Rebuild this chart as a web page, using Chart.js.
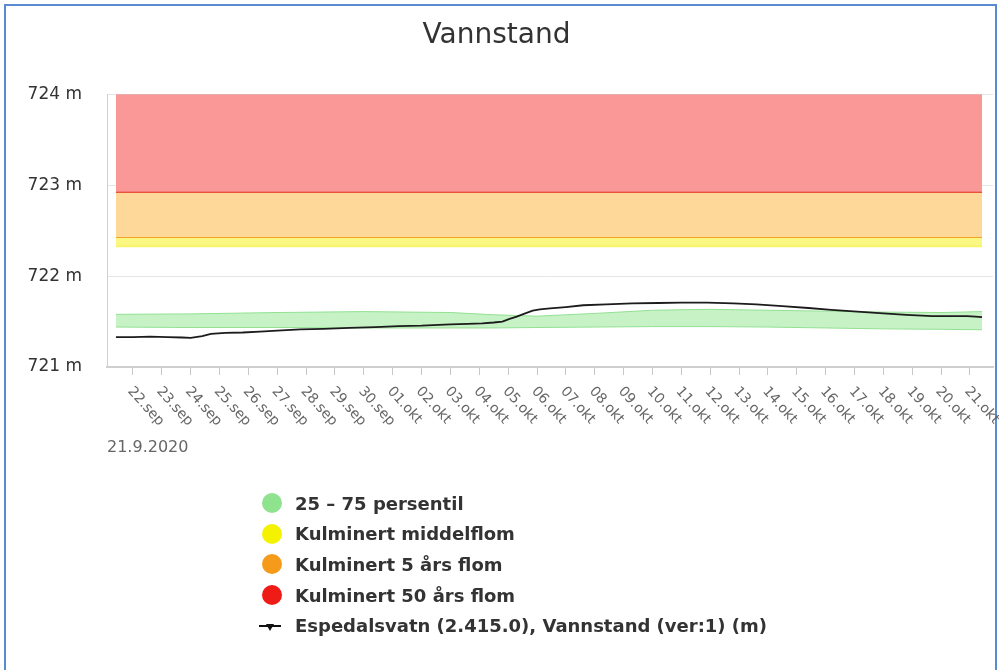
<!DOCTYPE html>
<html>
<head>
<meta charset="utf-8">
<script src="https://cdn.jsdelivr.net/npm/chart.js@4.4.1/dist/chart.umd.min.js"></script>
<style>
  html, body { margin: 0; padding: 0; background: #fff; }
  #wrap { position: relative; width: 999px; height: 670px; overflow: hidden; font-family: "DejaVu Sans", sans-serif; }
  #frame { position: absolute; left: 4px; top: 4px; width: 993px; height: 700px; border: 2px solid #5a8ad0; box-sizing: border-box; }
  canvas { position: absolute; left: 0; top: 0; }
  #legend { position: absolute; left: 262px; top: 488px; }
  .row { height: 30.6px; display: flex; align-items: center; font-weight: bold; font-size: 18px; color: #333; white-space: nowrap; }
  .dot { width: 20px; height: 20px; border-radius: 50%; margin-right: 13px; flex: none; }
  .mark { width: 22px; height: 18px; margin-left: -3px; margin-right: 14px; position: relative; flex: none; }
  .mark .ln { position: absolute; left: 0; right: 0; top: 8px; height: 2px; background: #111; }
  .mark .tri { position: absolute; left: 7px; top: 7px; width: 0; height: 0; border-left: 4px solid transparent; border-right: 4px solid transparent; border-top: 7px solid #111; }
</style>
</head>
<body>
<div id="wrap">
  <div id="frame"></div>
  <canvas id="chart" width="999" height="670"></canvas>
  <div id="legend"></div>
</div>
<script>
// x values are days after 21.9.2020 00:00
const tickDays = [1, 2, 3, 4, 5, 6, 7, 8, 9, 10, 11, 12, 13, 14, 15, 16, 17, 18, 19, 20, 21, 22, 23, 24, 25, 26, 27, 28, 29, 30];
const tickLabels = ['22.sep', '23.sep', '24.sep', '25.sep', '26.sep', '27.sep', '28.sep', '29.sep', '30.sep',
  '01.okt', '02.okt', '03.okt', '04.okt', '05.okt', '06.okt', '07.okt', '08.okt', '09.okt', '10.okt',
  '11.okt', '12.okt', '13.okt', '14.okt', '15.okt', '16.okt', '17.okt', '18.okt', '19.okt', '20.okt', '21.okt'];
const startLabel = '21.9.2020';

const levelDays = [0.41, 1.0, 1.6, 2.2, 2.7, 3.0, 3.4, 3.7, 4.2, 4.8, 5.4, 6.0, 6.8, 7.6, 8.5, 9.4, 10.2, 11.0, 12.0, 12.6,
  13.1, 13.5, 13.8, 14.05, 14.3, 14.5, 14.85, 15.1, 15.45, 16.0, 16.6, 17.4, 18.3, 19.2, 20.0, 20.9, 21.8, 22.6, 23.5,
  24.4, 25.2, 26.1, 27.0, 27.8, 28.7, 29.4, 29.9, 30.2, 30.42];
const levelValues = [721.33, 721.33, 721.335, 721.33, 721.325, 721.32, 721.34, 721.365, 721.375, 721.38, 721.39, 721.40,
  721.415, 721.42, 721.43, 721.44, 721.45, 721.455, 721.47, 721.475, 721.48, 721.49, 721.50, 721.53, 721.555, 721.58,
  721.62, 721.635, 721.645, 721.66, 721.68, 721.69, 721.70, 721.705, 721.71, 721.71, 721.70, 721.69, 721.67, 721.65,
  721.63, 721.61, 721.59, 721.575, 721.56, 721.56, 721.56, 721.555, 721.55];

const bandDays = [0.41, 3, 6, 9, 12, 13.5, 15, 17, 19, 21, 23, 25, 27, 29, 30.42];
const p25 = [721.44, 721.435, 721.435, 721.43, 721.43, 721.43, 721.435, 721.44, 721.445, 721.445, 721.44, 721.43, 721.42, 721.415, 721.41];
const p75 = [721.58, 721.585, 721.60, 721.61, 721.60, 721.575, 721.56, 721.59, 721.625, 721.635, 721.625, 721.615, 721.605, 721.60, 721.61];

const floodSpan = [0.41, 30.42];
const middelflom = 722.33;
const flom5 = 722.42;
const flom50 = 722.92;
const bandTop = 724;

const pts = (xs, ys) => xs.map((x, i) => ({ x, y: ys[i] }));
const flat = v => floodSpan.map(x => ({ x, y: v }));

const datasets = [
  { label: 'p25', data: pts(bandDays, p25), borderColor: '#92e092', borderWidth: 1, fill: false },
  { label: '25 – 75 persentil', legend: '#8fe38f', data: pts(bandDays, p75), borderColor: '#92e092', borderWidth: 1,
    fill: '-1', backgroundColor: 'rgba(120,224,120,0.42)' },
  { label: 'Kulminert middelflom', legend: '#f5f200', data: flat(middelflom), borderColor: '#f9f46a', borderWidth: 2,
    fill: '+1', backgroundColor: '#fbf783' },
  { label: 'Kulminert 5 års flom', legend: '#f59a1a', data: flat(flom5), borderColor: '#f0a22a', borderWidth: 2,
    fill: '+1', backgroundColor: '#fdd898' },
  { label: 'Kulminert 50 års flom', legend: '#ee1b16', data: flat(flom50), borderColor: '#e2271f', borderWidth: 2,
    fill: '+1', backgroundColor: '#fa9898' },
  { label: 'top', data: flat(bandTop), borderColor: '#e07070', borderWidth: 1, fill: false },
  { label: 'Espedalsvatn (2.415.0), Vannstand (ver:1) (m)', legend: 'line', data: pts(levelDays, levelValues),
    borderColor: '#1c1c1c', borderWidth: 1.8, fill: false, order: -1 }
];

const rotatedTicks = {
  id: 'rotatedTicks',
  afterDraw(chart) {
    const { ctx } = chart;
    const x = chart.scales.x;
    ctx.save();
    ctx.fillStyle = '#666';
    ctx.font = '14px "DejaVu Sans"';
    ctx.textAlign = 'left';
    ctx.textBaseline = 'middle';
    tickDays.forEach((d, i) => {
      ctx.save();
      ctx.translate(x.getPixelForValue(d) - 3, x.top + 22);
      ctx.rotate(48 * Math.PI / 180);
      ctx.fillText(tickLabels[i], 0, 0);
      ctx.restore();
    });
    ctx.font = '16px "DejaVu Sans"';
    ctx.textBaseline = 'top';
    ctx.fillText(startLabel, x.left, x.top + 73);
    ctx.restore();
  }
};

const chart = new Chart(document.getElementById('chart'), {
  type: 'line',
  data: { datasets },
  options: {
    responsive: false,
    animation: false,
    devicePixelRatio: 1,
    layout: { padding: { left: 0, right: 6, top: 0, bottom: 213 } },
    elements: { point: { radius: 0 }, line: { tension: 0 } },
    plugins: {
      legend: { display: false },
      tooltip: { enabled: false },
      title: {
        display: true,
        text: 'Vannstand',
        color: '#333',
        font: { family: 'DejaVu Sans', size: 28, weight: 'normal' },
        padding: { top: 19, bottom: 42 }
      }
    },
    scales: {
      x: {
        type: 'linear',
        min: 0.1,
        max: 30.8,
        afterBuildTicks: s => { s.ticks = tickDays.map(v => ({ value: v })); },
        afterFit: s => { s.height = 90; },
        ticks: { display: false },
        grid: { drawOnChartArea: false, drawTicks: true, tickLength: 8, color: '#c8c8c8' },
        border: { color: '#cfcfcf', width: 2 }
      },
      y: {
        min: 721,
        max: 724,
        afterFit: s => { s.width = 107; },
        ticks: {
          stepSize: 1,
          padding: 25,
          color: '#333',
          font: { family: 'DejaVu Sans', size: 17 },
          callback: v => v + ' m'
        },
        grid: { color: '#e6e6e6', drawTicks: false },
        border: { color: '#d0d0d0' }
      }
    }
  },
  plugins: [rotatedTicks]
});

// legend as a vertical list, built from the datasets
const legendEl = document.getElementById('legend');
chart.data.datasets.filter(ds => ds.legend).forEach(ds => {
  const row = document.createElement('div');
  row.className = 'row';
  const m = document.createElement('span');
  if (ds.legend === 'line') {
    m.className = 'mark';
    m.innerHTML = '<span class="ln"></span><span class="tri"></span>';
  } else {
    m.className = 'dot';
    m.style.background = ds.legend;
  }
  row.appendChild(m);
  row.appendChild(document.createTextNode(ds.label));
  legendEl.appendChild(row);
});
</script>
</body>
</html>
